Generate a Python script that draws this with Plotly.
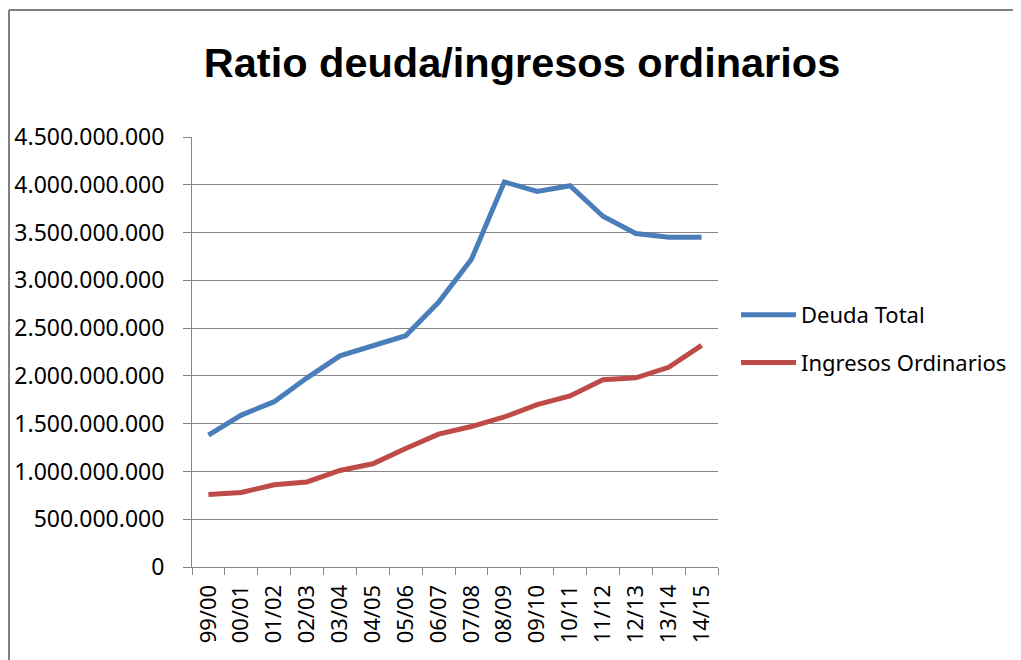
import plotly.graph_objects as go

categories = ["99/00", "00/01", "01/02", "02/03", "03/04", "04/05", "05/06", "06/07",
              "07/08", "08/09", "09/10", "10/11", "11/12", "12/13", "13/14", "14/15"]
deuda_total = [1.38e9, 1.59e9, 1.73e9, 1.98e9, 2.21e9, 2.31e9, 2.42e9, 2.77e9,
               3.22e9, 4.03e9, 3.93e9, 3.99e9, 3.67e9, 3.49e9, 3.45e9, 3.45e9]
ingresos_ordinarios = [0.76e9, 0.78e9, 0.86e9, 0.89e9, 1.01e9, 1.08e9, 1.24e9, 1.39e9,
                       1.47e9, 1.57e9, 1.70e9, 1.79e9, 1.96e9, 1.98e9, 2.09e9, 2.32e9]
y_ticks = [0, 5e8, 1e9, 1.5e9, 2e9, 2.5e9, 3e9, 3.5e9, 4e9, 4.5e9]

# page is offset by the 8px body margin; work in figure coordinates
OFF = 8
W, H = 1021 - OFF, 660 - OFF
px_left, px_right, px_top, px_bottom = 192 - OFF, 718 - OFF, 137 - OFF, 567 - OFF
L, R, T, B = px_left, W - px_right, px_top, H - px_bottom
pw, ph = px_right - px_left, px_bottom - px_top

font_main = "Noto Sans"
fig = go.Figure()
fig.add_trace(go.Scatter(x=categories, y=deuda_total, mode="lines", name="Deuda Total",
                         legendgroup="a",
                         line=dict(color="#4A7EBB", width=5)))
fig.add_trace(go.Scatter(x=categories, y=ingresos_ordinarios, mode="lines",
                         name="Ingresos Ordinarios", legendgroup="b",
                         line=dict(color="#BE4B48", width=5)))

gray = "#868686"
fig.update_layout(
    width=W, height=H,
    margin=dict(l=L, r=R, t=T, b=B, autoexpand=False),
    paper_bgcolor="white", plot_bgcolor="white",
    separators=",.",
    title=dict(text="<b>Ratio deuda/ingresos ordinarios</b>",
               font=dict(family="Liberation Sans", size=41.5, color="black"),
               x=(522 - OFF) / W, xanchor="center", y=1 - (62 - OFF) / H, yanchor="middle"),
    showlegend=True,
    legend=dict(x=(736 - OFF - px_left) / pw, xanchor="left",
                y=(px_bottom - (339 - OFF)) / ph, yanchor="middle",
                font=dict(family=font_main, size=22, color="black"),
                traceorder="grouped", tracegroupgap=16, itemwidth=55,
                bgcolor="rgba(0,0,0,0)"),
    xaxis=dict(type="category", tickson="boundaries", ticks="outside", ticklen=7,
               tickcolor=gray, showline=True, linecolor=gray, linewidth=1,
               showgrid=False, tickangle=-90, automargin=False, ticklabelstandoff=8,
               tickfont=dict(family=font_main, size=22, color="black"),
               range=[-0.5, len(categories) - 0.5]),
    yaxis=dict(range=[0, 4.5e9], tickvals=y_ticks, tickformat=",d", automargin=False,
               ticks="outside", ticklen=8, tickcolor=gray, ticklabelstandoff=14,
               showline=True, linecolor=gray, linewidth=1,
               showgrid=True, gridcolor=gray, gridwidth=1, zeroline=False,
               tickfont=dict(family=font_main, size=23, color="black")),
    shapes=[
        dict(type="line", xref="paper", yref="paper",
             x0=(1 - px_left) / pw, x1=(1 - px_left) / pw,
             y0=(px_bottom - 700) / ph, y1=(px_bottom - 2) / ph,
             line=dict(color="#808080", width=2)),
        dict(type="line", xref="paper", yref="paper",
             x0=(1 - px_left) / pw, x1=(1030 - px_left) / pw,
             y0=(px_bottom - 2) / ph, y1=(px_bottom - 2) / ph,
             line=dict(color="#808080", width=2)),
    ],
)
fig.write_html("out.html", post_script="document.body.style.overflow='hidden';")
